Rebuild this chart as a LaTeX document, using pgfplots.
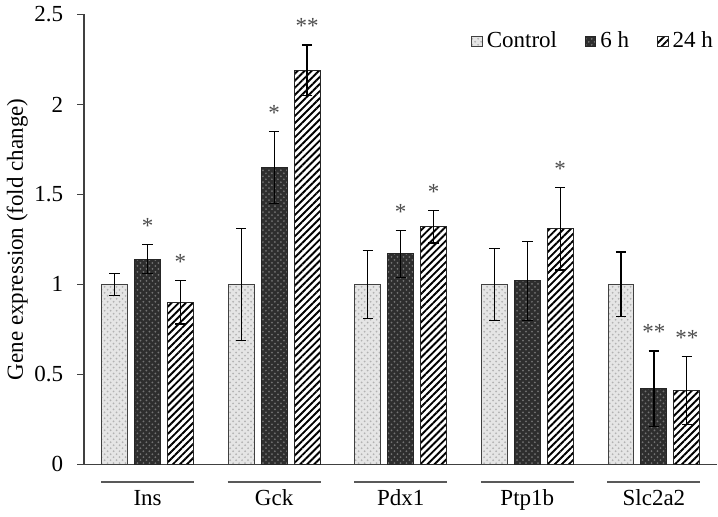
\documentclass[border=0pt]{standalone}
\usepackage{pgfplots}
\pgfplotsset{compat=1.18}
\usepackage{pgfplotstable}
\usepackage{fontspec}
\setmainfont{Liberation Serif}
\usetikzlibrary{patterns,patterns.meta}
\newcommand\f{\fontsize{11.5bp}{11bp}\selectfont}
\newcommand\ul[1]{\textcolor{black!65}{\rule{46.5bp}{1bp}}\\#1}

\pgfplotstableread{
x ctl ctle h6 h6e h24 h24e
0 1.00 0.06 1.14 0.08 0.90 0.12
1 1.00 0.31 1.65 0.20 2.19 0.14
2 1.00 0.19 1.17 0.13 1.32 0.09
3 1.00 0.20 1.02 0.22 1.31 0.23
4 1.00 0.18 0.42 0.21 0.41 0.19
}\data

\pgfplotstableread{
x y s
0.00 1.22 *
0.26 1.02 *
1.00 1.85 *
1.26 2.33 **
2.00 1.30 *
2.26 1.41 *
3.26 1.54 *
4.00 0.63 **
4.26 0.60 **
}\stars

\begin{document}
\begin{tikzpicture}
\begin{axis}[
  scale only axis,
  width=316.5bp, height=225bp,
  xmin=-0.5, xmax=4.5,
  ymin=0, ymax=2.5,
  ytick={0,0.5,1,1.5,2,2.5},
  yticklabels={0,0.5,1,1.5,2,2.5},
  /pgf/number format/assume math mode=true,
  xtick={0,1,2,3,4},
  xticklabels={\ul{Ins},\ul{Gck},\ul{Pdx1},\ul{Ptp1b},\ul{Slc2a2}},
  x tick style={draw=none},
  xticklabel style={align=center, font=\f, yshift=-1.5bp},
  yticklabel style={font=\f, xshift=-3.5bp},
  y tick style={black!75, line width=0.6bp},
  tick align=outside,
  major tick length=3.5bp,
  axis x line*=bottom,
  axis y line*=left,
  axis line style={black!75, line width=0.8bp},
  ylabel={Gene expression (fold change)},
  ylabel style={font=\f},
  ylabel shift=-3.5bp,
  clip=false,
  legend columns=3,
  legend style={draw=none, fill=none, font=\f, at={(1,1)}, anchor=north east,
    yshift=-4.5bp, inner xsep=0pt,
    /tikz/every even column/.append style={column sep=12bp}},
  legend image code/.code={\draw[#1] (0bp,-2.6bp) rectangle (5.2bp,2.6bp);},
  error bars/y dir=both, error bars/y explicit,
  error bars/error bar style={line width=0.6bp, black},
  error bars/error mark options={line width=0.6bp, black, mark size=2.6bp, rotate=90},
]
\addplot[ybar, bar width=0.205, bar shift=0pt, draw=black!75, line width=0.5bp,
  fill=black!10, postaction={pattern=crosshatch dots, pattern color=black!30}]
  table[x expr=\thisrow{x}-0.26, y=ctl, y error=ctle]{\data};
\addlegendentry{Control}
\addplot[ybar, bar width=0.205, bar shift=0pt, draw=black!85, line width=0.5bp,
  fill=black!82, postaction={pattern=crosshatch dots, pattern color=black!55}]
  table[x=x, y=h6, y error=h6e]{\data};
\addlegendentry{6 h}
\addplot[ybar, bar width=0.205, bar shift=0pt, draw=black!85, line width=0.5bp,
  fill=white, postaction={pattern={Lines[angle=45, distance=2.5bp, line width=0.95bp]}, pattern color=black}]
  table[x expr=\thisrow{x}+0.26, y=h24, y error=h24e]{\data};
\addlegendentry{24 h}
\addplot[only marks, mark=none, nodes near coords, point meta=explicit symbolic,
  nodes near coords style={anchor=south, font=\f, text=black!70, yshift=2bp},
  forget plot]
  table[x=x, y=y, meta=s]{\stars};
\end{axis}
\end{tikzpicture}
\end{document}
